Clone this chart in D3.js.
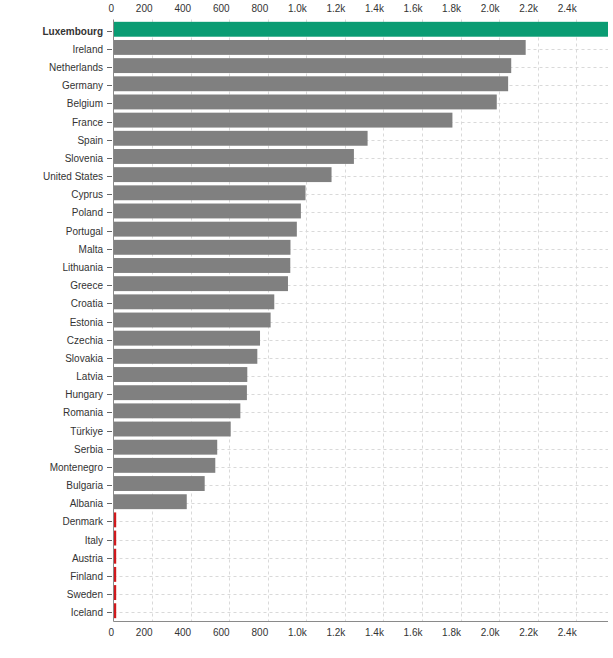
<!DOCTYPE html>
<html>
<head>
<meta charset="utf-8">
<script src="https://cdn.jsdelivr.net/npm/d3@7"></script>
<style>
  html, body { margin: 0; padding: 0; background: #fff; }
  svg { display: block; font-family: "Liberation Sans", Arial, sans-serif; }
</style>
</head>
<body>
<svg id="chart" width="613" height="658"></svg>
<script>
const countries = ["Luxembourg","Ireland","Netherlands","Germany","Belgium","France","Spain","Slovenia","United States","Cyprus","Poland","Portugal","Malta","Lithuania","Greece","Croatia","Estonia","Czechia","Slovakia","Latvia","Hungary","Romania","Türkiye","Serbia","Montenegro","Bulgaria","Albania","Denmark","Italy","Austria","Finland","Sweden","Iceland"];
const values = [2565,2138,2063,2047,1988,1758,1318,1247,1131,996,972,951,918,917,905,834,815,760,746,694,692,658,608,538,528,473,380,14,14,14,14,14,14];
const groups = ["highlight","normal","normal","normal","normal","normal","normal","normal","normal","normal","normal","normal","normal","normal","normal","normal","normal","normal","normal","normal","normal","normal","normal","normal","normal","normal","normal","missing","missing","missing","missing","missing","missing"];
const tickValues = [0,200,400,600,800,1000,1200,1400,1600,1800,2000,2200,2400];

const colorOf = { highlight: "#0a9c73", normal: "#808080", missing: "#d0191d" };

const svg = d3.select("#chart");
const mLeft = 113.5, mRight = 608, mTop = 19.5, mBottom = 621.5;

const x = d3.scaleLinear().domain([0, d3.max(values)]).range([mLeft, mRight]);
const y = d3.scaleBand().domain(countries).range([20, 620]).paddingInner(0.18).paddingOuter(0.1);

const fmt = v => v < 1000 ? String(v) : (v / 1000).toFixed(1) + "k";
const rowY = d => Math.round(y(d) + y.bandwidth() / 2 + 1.5) + 0.5;

// vertical grid
svg.append("g").selectAll("line").data(tickValues.slice(1)).join("line")
  .attr("x1", d => Math.round(x(d)) + 0.5).attr("x2", d => Math.round(x(d)) + 0.5)
  .attr("y1", mTop).attr("y2", mBottom)
  .attr("stroke", "#d9d9d9").attr("stroke-dasharray", "3,3");

// horizontal grid
svg.append("g").selectAll("line").data(countries).join("line")
  .attr("x1", mLeft).attr("x2", mRight)
  .attr("y1", rowY).attr("y2", rowY)
  .attr("stroke", "#d9d9d9").attr("stroke-dasharray", "3,3");

// bars
svg.append("g").selectAll("rect").data(countries).join("rect")
  .attr("x", x(0))
  .attr("y", d => y(d))
  .attr("width", (d, i) => x(values[i]) - x(0))
  .attr("height", y.bandwidth())
  .attr("fill", (d, i) => colorOf[groups[i]]);

// axis lines
svg.append("line").attr("x1", mLeft).attr("x2", mRight).attr("y1", mBottom).attr("y2", mBottom)
  .attr("stroke", "#8a8a8a").attr("stroke-width", 1);
svg.append("line").attr("x1", mLeft).attr("x2", mLeft).attr("y1", mTop).attr("y2", mBottom)
  .attr("stroke", "#8a8a8a").attr("stroke-width", 1);

// y ticks and labels
const yl = svg.append("g");
yl.selectAll("line").data(countries).join("line")
  .attr("x1", 107).attr("x2", 112)
  .attr("y1", rowY).attr("y2", rowY)
  .attr("stroke", "#666");
yl.selectAll("text").data(countries).join("text")
  .attr("x", 103)
  .attr("y", rowY)
  .attr("dy", "0.35em")
  .attr("text-anchor", "end")
  .attr("font-size", 10)
  .attr("fill", "#333")
  .attr("font-weight", (d, i) => groups[i] === "highlight" ? "bold" : "normal")
  .text(d => d);

// top & bottom x labels
[12, 636].forEach(yy => {
  svg.append("g").selectAll("text").data(tickValues).join("text")
    .attr("x", d => x(d) + 0.5)
    .attr("y", yy)
    .attr("text-anchor", "end")
    .attr("font-size", 10)
    .attr("fill", "#333")
    .text(fmt);
});
</script>
</body>
</html>
